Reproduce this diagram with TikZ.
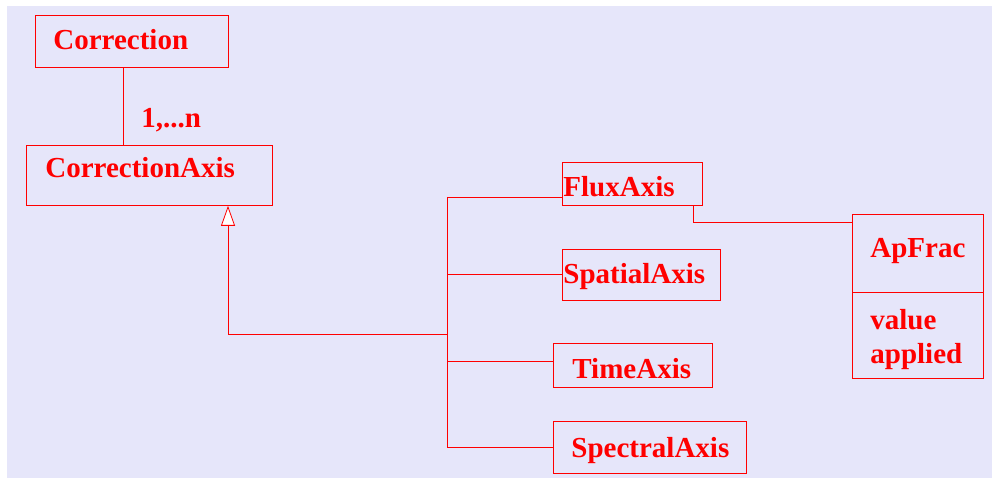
\documentclass[tikz,border=0pt]{standalone}
\usepackage{fontspec}
\setmainfont{Liberation Serif}
\usetikzlibrary{arrows.meta}
\definecolor{umlback}{RGB}{230,230,250}
\begin{document}
\begin{tikzpicture}[x=1pt, y=-1pt, line width=0.8pt, red,
                    class box/.style={draw=red,rectangle,inner sep=0pt,anchor=north west},
                    class name/.style={text=red,inner sep=0pt,anchor=base west,font=\fontsize{29}{34}\selectfont\bfseries},
                    inherit/.style={-{Triangle[open,length=20pt,width=14pt,fill=white]}}]

  \useasboundingbox (0,0) rectangle (992,478);
  \fill[umlback] (7,6) rectangle (992,478);

  % boxes
  \node[class box, minimum width=193pt, minimum height=52pt] (corr) at (35,15) {};
  \node[class box, minimum width=246pt, minimum height=60pt] (axis) at (26,145) {};
  \node[class box, minimum width=140pt, minimum height=43pt] (flux) at (562,162) {};
  \node[class box, minimum width=158pt, minimum height=51pt] (spatial) at (562,249) {};
  \node[class box, minimum width=159pt, minimum height=44pt] (time) at (553,343) {};
  \node[class box, minimum width=193pt, minimum height=52pt] (spectral) at (553,421) {};
  \node[class box, minimum width=131pt, minimum height=78pt] (apfrac) at (852,214) {};
  \node[class box, minimum width=131pt, minimum height=86pt] (apattr) at (852,292) {};

  % texts
  \node[class name] (corr-t) at (53,50) {Correction};
  \node[class name] (mult) at (141,128) {1,...n};
  \node[class name] (axis-t) at (45,178) {CorrectionAxis};
  \node[class name] (flux-t) at (563,197) {FluxAxis};
  \node[class name] (spatial-t) at (563,283) {SpatialAxis};
  \node[class name] (time-t) at (572,378) {TimeAxis};
  \node[class name] (spectral-t) at (571,457) {SpectralAxis};
  \node[class name] (apfrac-t) at (870,257) {ApFrac};
  \node[class name] (value-t) at (870,329) {value};
  \node[class name] (applied-t) at (870,363) {applied};

  % connectors
  \coordinate (link) at (123,0);
  \coordinate (tip) at (228,0);
  \coordinate (hub) at (447,334);
  \coordinate (b1) at (447,197);
  \coordinate (b2) at (447,274);
  \coordinate (b3) at (447,361);
  \coordinate (b4) at (447,447);
  \coordinate (fa) at (693,222);

  \draw (corr.south -| link) -- (axis.north -| link);
  \draw[inherit] (hub) -| (axis.south -| tip);
  \draw (b1) -- (b4);
  \draw (b1) -- (b1 -| flux.west);
  \draw (b2) -- (b2 -| spatial.west);
  \draw (b3) -- (b3 -| time.west);
  \draw (b4) -- (b4 -| spectral.west);
  \draw (flux.south -| fa) |- (fa -| apfrac.west);

\end{tikzpicture}
\end{document}
